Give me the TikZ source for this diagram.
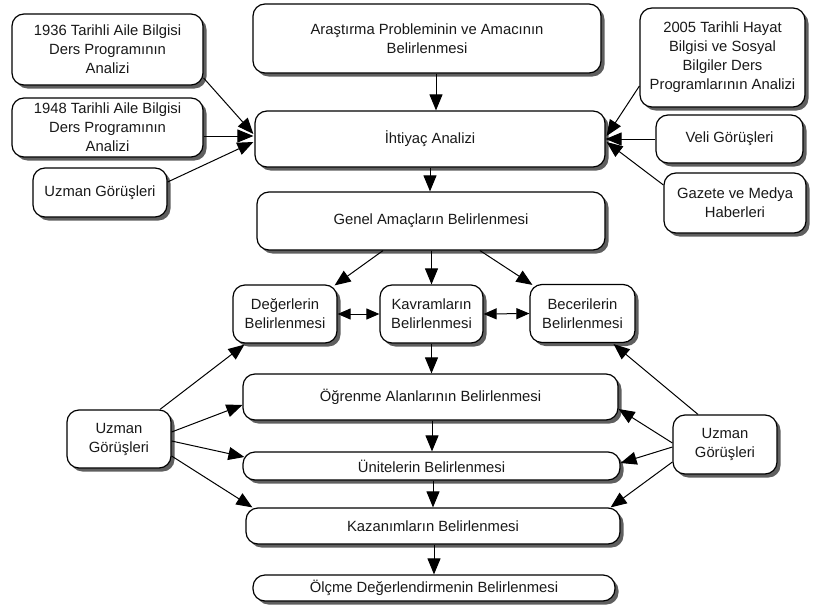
\documentclass[tikz,border=0pt]{standalone}
\usepackage{fontspec}
\setmainfont{Liberation Sans}
\usetikzlibrary{positioning, shapes, arrows.meta, shadows, calc}
\definecolor{ShadowGray}{RGB}{95, 95, 95}
\definecolor{TextGray}{RGB}{25, 25, 25}

\begin{document}
\begin{tikzpicture}[
    x=1pt, y=-1pt,
    box/.style={draw=black, fill=white, rounded corners=12pt, line width=1.2pt, align=center,
      inner sep=1pt, text=TextGray, font=\fontsize{14.8}{19}\selectfont,
      drop shadow={shadow xshift=3.5pt, shadow yshift=-3.5pt, opacity=1, fill=ShadowGray}},
    arrow/.style={-{Triangle[length=16pt, width=13pt]}, line width=1pt},
    twoway/.style={{Triangle[length=13pt, width=11pt]}-{Triangle[length=13pt, width=11pt]}, line width=1pt}
  ]
    \useasboundingbox (0,0) rectangle (813,610);

    % Main column
    \node[box, minimum width=348pt, minimum height=69pt] (prob) at (427, 38.5) {Araştırma Probleminin ve Amacının\\Belirlenmesi};
    \node[box, minimum width=350pt, minimum height=56pt] (ihtiyac) at (430, 139) {İhtiyaç Analizi};
    \node[box, minimum width=348pt, minimum height=58pt] (genel) at (431, 221) {Genel Amaçların Belirlenmesi};

    % Sources, left
    \node[box, minimum width=191pt, minimum height=71pt] (p1936) at (107.5, 49.5) {1936 Tarihli Aile Bilgisi\\Ders Programının\\Analizi};
    \node[box, minimum width=191pt, minimum height=59pt] (p1948) at (107.5, 127.5) {1948 Tarihli Aile Bilgisi\\Ders Programının\\Analizi};
    \node[box, minimum width=134pt, minimum height=49pt] (uzman1) at (100, 192.5) {Uzman Görüşleri};

    % Sources, right
    \node[box, minimum width=165pt, minimum height=99pt] (p2005) at (722.5, 57.5) {2005 Tarihli Hayat\\Bilgisi ve Sosyal\\Bilgiler Ders\\Programlarının Analizi};
    \node[box, minimum width=147pt, minimum height=48pt] (veli) at (729.5, 139) {Veli Görüşleri};
    \node[box, minimum width=142pt, minimum height=60pt] (gazete) at (735, 203) {Gazete ve Medya\\Haberleri};

    % Values, concepts, skills
    \node[box, minimum width=104pt, minimum height=58pt] (deger) at (285, 314) {Değerlerin\\Belirlenmesi};
    \node[box, minimum width=103pt, minimum height=58pt] (kavram) at (431.5, 314) {Kavramların\\Belirlenmesi};
    \node[box, minimum width=105pt, minimum height=58pt] (beceri) at (582.5, 313.5) {Becerilerin\\Belirlenmesi};

    % Lower column
    \node[box, minimum width=375pt, minimum height=46pt] (ogrenme) at (430.5, 397) {Öğrenme Alanlarının Belirlenmesi};
    \node[box, minimum width=377pt, minimum height=28pt] (unite) at (431.5, 466) {Ünitelerin Belirlenmesi};
    \node[box, minimum width=374pt, minimum height=36pt] (kazanim) at (433, 526) {Kazanımların Belirlenmesi};
    \node[box, minimum width=362pt, minimum height=26pt] (olcme) at (434, 588) {Ölçme Değerlendirmenin Belirlenmesi};

    % Experts, bottom
    \node[box, minimum width=104pt, minimum height=58pt] (uzman2) at (119, 439) {Uzman\\Görüşleri};
    \node[box, minimum width=104pt, minimum height=59pt] (uzman3) at (725, 444.5) {Uzman\\Görüşleri};

    % Connections: main column
    \draw[arrow] ([xshift=9pt]prob.south) -- ([xshift=9pt]prob.south |- ihtiyac.north);
    \draw[arrow] (ihtiyac.south) -- (ihtiyac.south |- genel.north);
    \draw[arrow] (genel.south -| kavram) -- (kavram.north);
    \draw[arrow] (kavram.south) -- (kavram.south |- ogrenme.north);
    \draw[arrow] ([xshift=1.5pt]ogrenme.south) -- ([xshift=1.5pt]ogrenme.south |- unite.north);
    \draw[arrow] ([xshift=1.5pt]unite.south) -- ([xshift=1.5pt]unite.south |- kazanim.north);
    \draw[arrow] ([xshift=1pt]kazanim.south) -- ([xshift=1pt]kazanim.south |- olcme.north);

    % Connections: into the needs analysis
    \draw[arrow] ($(p1936.east)+(0,28.5)$) -- ($(ihtiyac.west)+(-1,-5)$);
    \draw[arrow] ($(p1948.east)+(0,8.5)$) -- ($(ihtiyac.west)+(-1,-3)$);
    \draw[arrow] ($(uzman1.east)+(0,-10.5)$) -- ($(ihtiyac.west)+(-1,3)$);
    \draw[arrow] ($(p2005.west)+(0,28.5)$) -- ($(ihtiyac.east)+(1,-3)$);
    \draw[arrow] (veli.west) -- (ihtiyac.east);
    \draw[arrow] ($(gazete.west)+(0,-18)$) -- ($(ihtiyac.east)+(1,3)$);

    % Connections: aims to values, concepts, skills
    \draw[arrow] ($(genel.south)+(-48,0)$) -- ($(deger.north east)+(-3,1)$);
    \draw[arrow] ($(genel.south)+(49,0)$) -- ($(beceri.north west)+(3,1)$);
    \draw[twoway] (deger.east) -- (kavram.west);
    \draw[twoway] (kavram.east) -- (beceri.west);

    % Connections: experts, left
    \draw[arrow] ($(uzman2.north)+(41,0)$) -- ($(deger.south west)+(12,1)$);
    \draw[arrow] ($(uzman2.east)+(0,-7)$) -- ($(ogrenme.west)+(0,8)$);
    \draw[arrow] ($(uzman2.east)+(0,2)$) -- ($(unite.west)+(2,-9)$);
    \draw[arrow] ($(uzman2.east)+(0,17)$) -- ($(kazanim.north west)+(7,0)$);

    % Connections: experts, right
    \draw[arrow] ($(uzman3.north)+(-27,0)$) -- ($(beceri.south east)+(-22,1)$);
    \draw[arrow] ($(uzman3.west)+(0,-1.5)$) -- ($(ogrenme.east)+(0,12)$);
    \draw[arrow] ($(uzman3.west)+(0,2.5)$) -- ($(unite.east)+(0,-3)$);
    \draw[arrow] ($(uzman3.west)+(0,17.5)$) -- ($(kazanim.north east)+(-10,0)$);
  \end{tikzpicture}
\end{document}
